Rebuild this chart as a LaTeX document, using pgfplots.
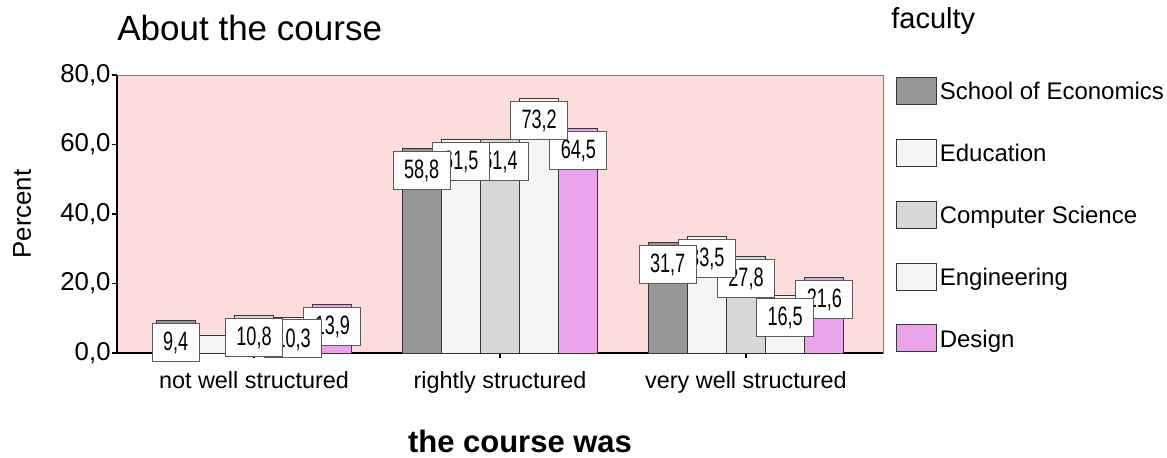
\documentclass[border=0pt]{standalone}
\usepackage{fontspec}
\setmainfont{Liberation Sans}
\usepackage{graphicx}
\usepackage{pgfplots}
\usepackage{pgfplotstable}
\pgfplotsset{compat=1.18}

\definecolor{bg}{RGB}{253,220,220}
\definecolor{soe}{RGB}{150,150,150}
\definecolor{edu}{RGB}{245,245,245}
\definecolor{cs}{RGB}{215,215,215}
\definecolor{eng}{RGB}{245,245,245}
\definecolor{des}{RGB}{234,164,234}
\definecolor{edge}{RGB}{55,55,55}
\definecolor{boxedge}{RGB}{90,90,90}

\pgfplotstableread{
cat soe  edu  cs   eng  des
0   9.4  5.0  10.8 10.3 13.9
1   58.8 61.5 61.4 73.2 64.5
2   31.7 33.5 27.8 16.5 21.6
}\datatable

\pgfplotsset{
  lbl/.style={draw=none, fill=none, forget plot,
    nodes near coords={\scalebox{0.68}[1]{\fontsize{13.3}{14}\selectfont\pgfmathprintnumber{\pgfplotspointmeta}}},
    every node near coord/.append style={
      fill=white, draw=boxedge, line width=0.5pt, inner xsep=5.5pt, inner ysep=0pt,
      minimum height=19pt, text depth=1pt, anchor=north, yshift=-1.1pt}},
}

\begin{document}
\begin{tikzpicture}
\useasboundingbox (-58.5pt,-52pt) rectangle (525pt,176.5pt);
\begin{axis}[
  name=ax,
  at={(0,0)}, anchor=south west,
  width=383pt, height=139pt, scale only axis,
  ybar, bar width=0.1593,
  xmin=-0.557, xmax=2.557, ymin=0, ymax=80,
  xtick={0,1,2},
  xticklabels={not well structured, rightly structured, very well structured},
  ytick={0,20,40,60,80},
  /pgf/number format/.cd, use comma, fixed, fixed zerofill, precision=1, assume math mode=true,
  /pgfplots/.cd,
  axis lines*=left,
  axis line style={black, line width=0.75pt, -},
  axis background/.style={fill=bg, draw=gray, line width=0.4pt},
  tick align=outside,
  major tick length=2.5pt,
  major tick style={black, line width=0.75pt},
  xticklabel style={font=\fontsize{11.7}{14}\selectfont, anchor=base, yshift=-15pt},
  yticklabel style={font=\fontsize{12.9}{15}\selectfont, anchor=east, inner sep=0pt, xshift=-0.5pt},
  ylabel={Percent},
  ylabel style={at={(axis description cs:-0.124,0.5)}, anchor=center, font=\fontsize{12.9}{15}\selectfont},
  xlabel={the course was},
  xlabel style={at={(axis description cs:0.5261,0)}, anchor=base, yshift=-49.5pt, font=\bfseries\fontsize{15.5}{18}\selectfont},
  legend style={at={(axis description cs:1,1)}, anchor=north west, xshift=6.5pt, yshift=-0.85pt,
    draw=none, fill=none, inner sep=0pt, row sep=16.9pt, column sep=1.2pt,
    nodes={inner sep=0pt, text depth=0pt},
    font=\fontsize{12}{14}\selectfont},
  legend cell align=left,
  legend image code/.code={\draw[#1, draw=edge, line width=0.5pt] (0pt,-6.75pt) rectangle (20pt,6.75pt);},
]
\addplot[fill=soe, draw=edge, line width=0.5pt, bar shift=-0.3186] table[x=cat, y=soe] {\datatable};
\addplot[fill=edu, draw=edge, line width=0.5pt, bar shift=-0.1593] table[x=cat, y=edu] {\datatable};
\addplot[fill=cs,  draw=edge, line width=0.5pt, bar shift=0] table[x=cat, y=cs] {\datatable};
\addplot[fill=eng, draw=edge, line width=0.5pt, bar shift=0.1593] table[x=cat, y=eng] {\datatable};
\addplot[fill=des, draw=edge, line width=0.5pt, bar shift=0.3186] table[x=cat, y=des] {\datatable};
\legend{School of Economics, Education, Computer Science, Engineering, Design}
% value labels, drawn above all bars
\addplot[lbl, bar shift=0.3186] table[x=cat, y=des] {\datatable};
\addplot[lbl, bar shift=0.1593] table[x=cat, y=eng] {\datatable};
\addplot[lbl, bar shift=0] table[x=cat, y=cs] {\datatable};
\addplot[lbl, bar shift=-0.1593, skip coords between index={0}{1}] table[x=cat, y=edu] {\datatable};
\addplot[lbl, bar shift=-0.3186] table[x=cat, y=soe] {\datatable};
\end{axis}
\node[anchor=base west, inner sep=0pt, font=\fontsize{17.5}{20}\selectfont] at ([shift={(0pt,17.15pt)}]ax.north west) {About the course};
\node[anchor=base west, inner sep=0pt, font=\fontsize{14.5}{17}\selectfont] at ([shift={(4pt,23.5pt)}]ax.north east) {faculty};
\end{tikzpicture}
\end{document}
